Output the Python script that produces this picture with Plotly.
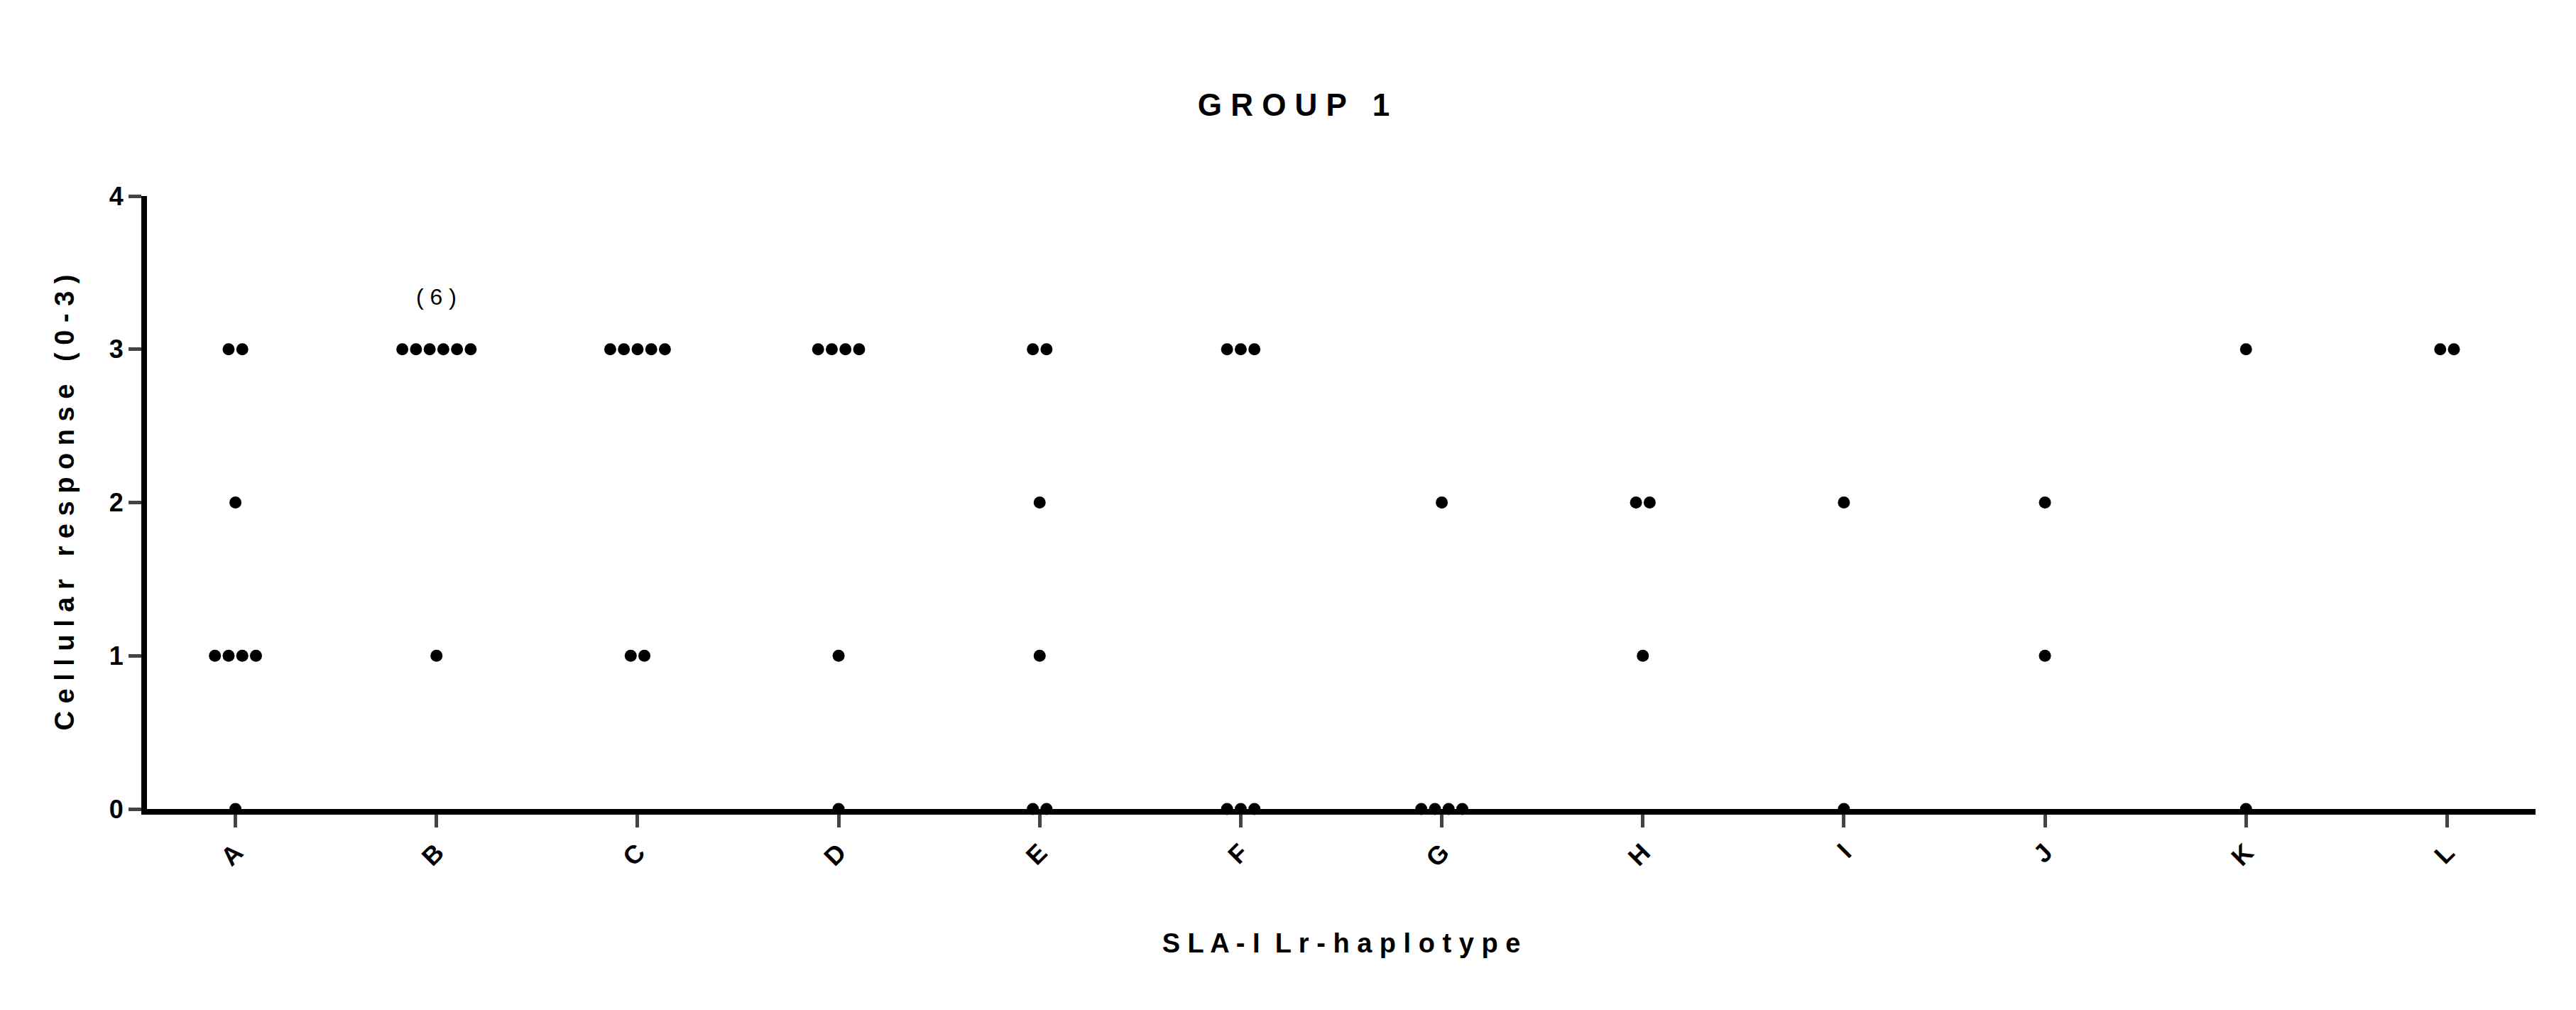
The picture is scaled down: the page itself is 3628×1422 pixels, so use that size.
import plotly.graph_objects as go

categories = ["A","B","C","D","E","F","G","H","I","J","K","L"]
levels = [0, 1, 2, 3]
# counts of animals per response level (0,1,2,3) for each haplotype
counts = {
    "A": [1, 4, 1, 2],
    "B": [0, 1, 0, 6],
    "C": [0, 2, 0, 5],
    "D": [1, 1, 0, 4],
    "E": [2, 1, 1, 2],
    "F": [3, 0, 0, 3],
    "G": [4, 0, 1, 0],
    "H": [0, 1, 2, 0],
    "I": [1, 0, 1, 0],
    "J": [0, 1, 1, 0],
    "K": [1, 0, 0, 1],
    "L": [0, 0, 0, 2],
}
ytick_vals = [0, 1, 2, 3, 4]

step = 0.068
xs, ys = [], []
for i, c in enumerate(categories):
    for lv, n in zip(levels, counts[c]):
        for k in range(n):
            xs.append(i + (k - (n - 1) / 2) * step)
            ys.append(lv)

fig = go.Figure(go.Scatter(x=xs, y=ys, mode="markers", cliponaxis=False,
                           marker=dict(color="black", size=17)))

fnt = "Arial, Liberation Sans, sans-serif"
fig.update_layout(
    width=3628, height=1422, paper_bgcolor="white", plot_bgcolor="white",
    margin=dict(l=199, r=65, t=268, b=291), showlegend=False,
    title=dict(text="<b>G R O U P   1</b>", x=0.5, xanchor="center", y=1-140/1422, yanchor="middle",
               font=dict(family=fnt, size=44, color="black")),
    font=dict(family=fnt, color="black"),
)
fig.update_xaxes(range=[-0.44, len(categories) - 0.56], tickvals=list(range(len(categories))),
                 ticktext=["<b>%s</b>" % c for c in categories], tickangle=-45,
                 tickfont=dict(size=36), ticks="outside", ticklen=18, tickwidth=5,
                 showline=True, linewidth=8, linecolor="black", showgrid=False, zeroline=False,
                 title=dict(text="<b>S L A - I  L r - h a p l o t y p e</b>", font=dict(size=38), standoff=90))
fig.update_yaxes(range=[0, 4], tickvals=ytick_vals, ticktext=["<b>%d</b>" % v for v in ytick_vals],
                 tickfont=dict(size=36), ticks="outside", ticklen=18, tickwidth=5,
                 showline=True, linewidth=8, linecolor="black", showgrid=False, zeroline=False,
                 title=dict(text="<b>C e l l u l a r   r e s p o n s e   ( 0 - 3 )</b>", font=dict(size=38), standoff=40))
fig.add_annotation(x=1, y=3.34, text="( 6 )", showarrow=False, font=dict(size=32, color="black"))
fig.write_html("out.html")
